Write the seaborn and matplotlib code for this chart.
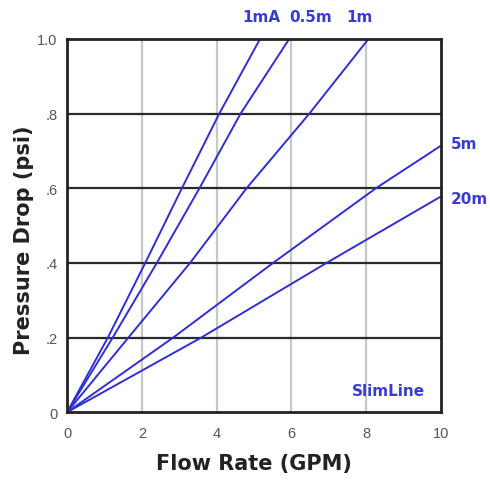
import matplotlib
matplotlib.use("Agg")
import matplotlib.pyplot as plt
import seaborn as sns
import pandas as pd

# Pressure drop curves (flow in GPM, pressure in psi)
flow_1ma = [0, 1.09, 2.09, 3.07, 4.07, 5.16]
psi_1ma = [0, 0.2, 0.4, 0.6, 0.8, 1.0]
flow_05m = [0, 1.22, 2.40, 3.54, 4.64, 5.94]
psi_05m = [0, 0.2, 0.4, 0.6, 0.8, 1.0]
flow_1m = [0, 1.64, 3.29, 4.80, 6.48, 8.06]
psi_1m = [0, 0.2, 0.4, 0.6, 0.8, 1.0]
flow_5m = [0, 2.84, 5.51, 8.26, 10]
psi_5m = [0, 0.2, 0.4, 0.6, 0.714]
flow_20m = [0, 3.59, 6.94, 10]
psi_20m = [0, 0.2, 0.4, 0.578]

series = ["1mA", "0.5m", "1m", "5m", "20m"]
x_ticks = [0, 2, 4, 6, 8, 10]
y_ticks = [0, 0.2, 0.4, 0.6, 0.8, 1.0]
y_tick_labels = ["0", ".2", ".4", ".6", ".8", "1.0"]

frames = []
for name, fx, fy in zip(series,
                        [flow_1ma, flow_05m, flow_1m, flow_5m, flow_20m],
                        [psi_1ma, psi_05m, psi_1m, psi_5m, psi_20m]):
    frames.append(pd.DataFrame({"flow": fx, "psi": fy, "filter": name}))
df = pd.concat(frames, ignore_index=True)

sns.set_style("white")
plt.rcParams["font.family"] = ["Liberation Sans", "DejaVu Sans"]

blue = "#2f2fd0"
text_blue = "#3a3ad6"

fig = plt.figure(figsize=(4.9, 4.81), dpi=100)
ax = fig.add_axes([0.137, 0.141, 0.763, 0.776])

# grid
for gx in x_ticks[1:-1]:
    ax.axvline(gx, color="#c8c8c8", lw=1.6, zorder=0)
for gy in y_ticks[1:-1]:
    ax.axhline(gy, color="#2a2a2a", lw=1.6, zorder=0)

sns.lineplot(data=df, x="flow", y="psi", hue="filter", units="filter",
             estimator=None, sort=False, palette=[blue] * len(series),
             lw=1.4, legend=False, ax=ax)

ax.set_xlim(0, 10)
ax.set_ylim(0, 1.0)
ax.set_xticks(x_ticks)
ax.set_yticks(y_ticks)
ax.set_yticklabels(y_tick_labels)
ax.tick_params(axis="both", length=0, labelsize=10.5, labelcolor="#555555")
ax.tick_params(axis="x", pad=10)
ax.tick_params(axis="y", pad=7)
for s in ax.spines.values():
    s.set_color("#222222")
    s.set_linewidth(2)

ax.set_xlabel("Flow Rate (GPM)", fontsize=15, fontweight="bold", color="#222222",
              family="DejaVu Sans", labelpad=9)
ax.set_ylabel("Pressure Drop (psi)", fontsize=15, fontweight="bold", color="#222222",
              family="DejaVu Sans")
ax.yaxis.set_label_coords(-0.088, 0.464)

# line labels
lab = dict(color=text_blue, fontsize=11, fontweight="bold", family="DejaVu Sans")
ax.text(5.19, 1.04, "1mA", ha="center", va="bottom", **lab)
ax.text(6.52, 1.04, "0.5m", ha="center", va="bottom", **lab)
ax.text(7.83, 1.04, "1m", ha="center", va="bottom", **lab)
ax.text(10.25, psi_5m[-1] + 0.005, "5m", ha="left", va="center", **lab)
ax.text(10.25, psi_20m[-1] - 0.005, "20m", ha="left", va="center", **lab)
ax.text(9.57, 0.057, "SlimLine", ha="right", va="center", **lab)

fig.savefig("out.png", dpi=100)
